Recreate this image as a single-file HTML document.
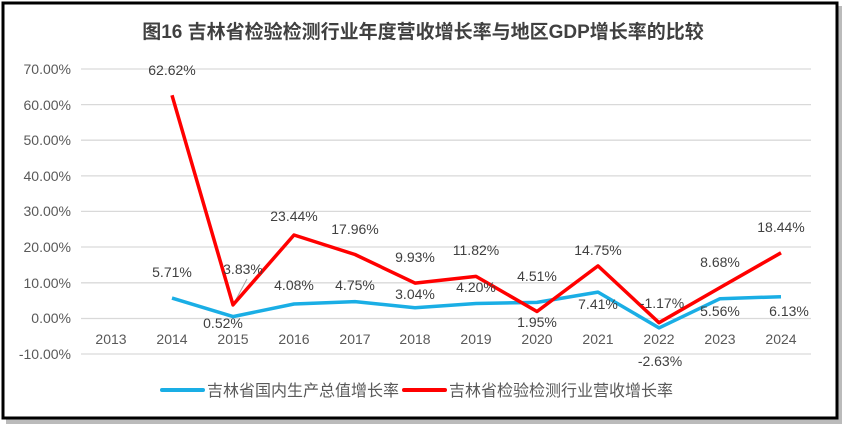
<!DOCTYPE html><html><head><meta charset="utf-8"><style>body{margin:0;background:#fff}svg{display:block}</style></head><body>
<svg width="846" height="429" xmlns="http://www.w3.org/2000/svg" font-family="Liberation Sans, Noto Sans CJK SC, sans-serif">
<rect x="0" y="0" width="846" height="429" fill="#fff"/>
<rect x="6" y="6" width="836" height="418" fill="#bbb"/>
<rect x="3" y="3" width="834" height="415" fill="#fff" stroke="#000" stroke-width="3"/>
<text x="423" y="38" text-anchor="middle" font-size="19" font-weight="bold" fill="#404040">图16 吉林省检验检测行业年度营收增长率与地区GDP增长率的比较</text>
<g stroke="#d9d9d9" stroke-width="1.3">
<line x1="81" x2="811" y1="69" y2="69"/><line x1="81" x2="811" y1="104.6" y2="104.6"/><line x1="81" x2="811" y1="140.2" y2="140.2"/><line x1="81" x2="811" y1="175.9" y2="175.9"/><line x1="81" x2="811" y1="211.4" y2="211.4"/><line x1="81" x2="811" y1="247" y2="247"/><line x1="81" x2="811" y1="282.8" y2="282.8"/><line x1="81" x2="811" y1="318.5" y2="318.5"/><line x1="81" x2="811" y1="354" y2="354"/>
</g>
<g font-size="14" fill="#595959" text-anchor="end">
<text x="71" y="74">70.00%</text><text x="71" y="110">60.00%</text><text x="71" y="145">50.00%</text><text x="71" y="181">40.00%</text><text x="71" y="216">30.00%</text><text x="71" y="252">20.00%</text><text x="71" y="288">10.00%</text><text x="71" y="323">0.00%</text><text x="71" y="359">-10.00%</text>
</g>
<g font-size="14" fill="#595959" text-anchor="middle">
<text x="111" y="344">2013</text><text x="172" y="344">2014</text><text x="233" y="344">2015</text><text x="294" y="344">2016</text><text x="355" y="344">2017</text><text x="415" y="344">2018</text><text x="476" y="344">2019</text><text x="537" y="344">2020</text><text x="598" y="344">2021</text><text x="659" y="344">2022</text><text x="720" y="344">2023</text><text x="781" y="344">2024</text>
</g>
<line x1="233" y1="305" x2="247" y2="279" stroke="#a6a6a6" stroke-width="1"/>
<polyline fill="none" stroke="#1aaee5" stroke-width="3.5" stroke-linejoin="round" points="172,298.1 233,316.6 294,304 355,301.6 415,307.7 476,303.5 537,302.4 598,292.1 659,327.9 720,298.7 781,296.7"/>
<polyline fill="none" stroke="#ff0000" stroke-width="3.5" stroke-linejoin="round" points="172,95.3 233,304.9 294,235 355,254.5 415,283.1 476,276.4 537,311.5 598,265.9 659,322.7 720,287.6 781,252.8"/>
<g font-size="14" fill="#404040" text-anchor="middle">
<text x="172" y="75">62.62%</text><text x="172" y="277">5.71%</text><text x="243" y="274">3.83%</text><text x="223" y="328">0.52%</text>
<text x="294" y="221">23.44%</text><text x="294" y="290">4.08%</text><text x="355" y="234">17.96%</text><text x="355" y="290">4.75%</text>
<text x="415" y="262">9.93%</text><text x="415" y="299">3.04%</text><text x="476" y="255">11.82%</text><text x="476" y="292">4.20%</text>
<text x="537" y="281">4.51%</text><text x="537" y="327">1.95%</text><text x="598" y="255">14.75%</text><text x="598" y="309">7.41%</text>
<text x="662" y="308">-1.17%</text><text x="660" y="366">-2.63%</text><text x="720" y="267">8.68%</text><text x="720" y="316">5.56%</text>
<text x="781" y="232">18.44%</text><text x="789" y="316">6.13%</text>
</g>
<line x1="162" y1="390" x2="203" y2="390" stroke="#1aaee5" stroke-width="4" stroke-linecap="round"/>
<text x="207" y="396" font-size="16" fill="#595959">吉林省国内生产总值增长率</text>
<line x1="404" y1="390" x2="445" y2="390" stroke="#ff0000" stroke-width="4" stroke-linecap="round"/>
<text x="449" y="396" font-size="16" fill="#595959">吉林省检验检测行业营收增长率</text>
</svg></body></html>
